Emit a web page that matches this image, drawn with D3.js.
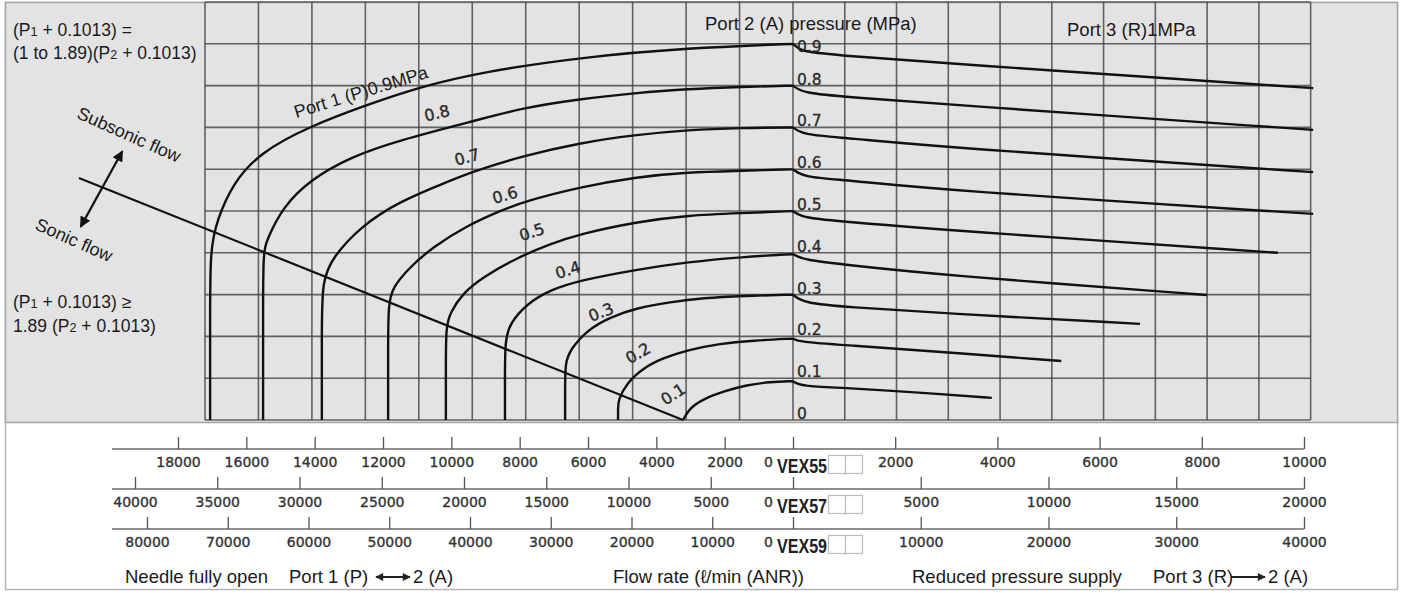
<!DOCTYPE html>
<html><head><meta charset="utf-8">
<script src="https://cdn.jsdelivr.net/npm/d3@7"></script>
<style>body{margin:0;background:#fff}svg{display:block}</style>
</head><body><svg id="c" width="1405" height="593"></svg>
<script>
// ---------------- DATA (flow in VEX55 l/min: negative = Port1->2, positive = Port3->2; pressure MPa) ----------
const portPressures = [0.9, 0.8, 0.7, 0.6, 0.5, 0.4, 0.3, 0.2, 0.1];
const curveP09 = [[-17060,0],[-17060,0.25],[-17060,0.407],[-16860,0.478],[-16390,0.567],[-15600,0.640],[-14140,0.703],[-12470,0.754],[-10920,0.797],[-9070,0.833],[-6180,0.868],[-3070,0.890],[0,0.900],[0,0.900],[140,0.885],[330,0.880],[1060,0.871],[2880,0.854],[10180,0.794]];
const curveP08 = [[-15510,0],[-15510,0.25],[-15510,0.400],[-15400,0.431],[-14930,0.510],[-14140,0.574],[-12970,0.629],[-11500,0.670],[-9450,0.713],[-7900,0.747],[-6240,0.768],[-4630,0.782],[-3070,0.792],[-1490,0.797],[0,0.800],[0,0.800],[200,0.782],[1060,0.773],[2880,0.756],[10180,0.694]];
const curveP07 = [[-13790,0],[-13790,0.2],[-13790,0.335],[-13460,0.390],[-12670,0.462],[-11500,0.524],[-10040,0.572],[-9450,0.592],[-7900,0.632],[-6240,0.663],[-4630,0.682],[-3070,0.694],[-1490,0.699],[0,0.700],[0,0.700],[200,0.682],[1060,0.675],[2880,0.653],[10180,0.593]];
const curveP06 = [[-11850,0],[-11850,0.15],[-11850,0.280],[-11710,0.318],[-11210,0.366],[-10540,0.414],[-9540,0.465],[-8580,0.500],[-7900,0.522],[-6240,0.557],[-4630,0.581],[-3070,0.593],[-1490,0.596],[0,0.600],[0,0.600],[200,0.581],[1060,0.574],[2880,0.550],[10180,0.493]];
const curveP05 = [[-10160,0],[-10160,0.12],[-10160,0.222],[-10040,0.256],[-9660,0.304],[-9070,0.342],[-8080,0.388],[-7110,0.421],[-6240,0.445],[-4570,0.474],[-3070,0.490],[-1490,0.495],[0,0.500],[0,0.500],[200,0.483],[1060,0.474],[2880,0.455],[9490,0.400]];
const curveP04 = [[-8430,0],[-8430,0.1],[-8430,0.191],[-8280,0.232],[-7790,0.278],[-7110,0.311],[-6240,0.334],[-4570,0.360],[-3070,0.378],[-1490,0.390],[0,0.397],[0,0.397],[200,0.383],[1060,0.371],[2880,0.347],[8100,0.299]];
const curveP03 = [[-6670,0],[-6670,0.07],[-6670,0.136],[-6530,0.167],[-6030,0.215],[-5360,0.246],[-4570,0.268],[-3600,0.282],[-2630,0.292],[-1460,0.297],[0,0.300],[0,0.300],[200,0.280],[1060,0.270],[2880,0.256],[6790,0.230]];
const curveP02 = [[-5120,0],[-5120,0.025],[-5120,0.048],[-4860,0.089],[-4390,0.124],[-3810,0.148],[-3100,0.167],[-2140,0.183],[-1170,0.190],[0,0.195],[0,0.195],[100,0.187],[1060,0.179],[2880,0.163],[5250,0.141]];
const curveP01 = [[-3220,0],[-3020,0.029],[-2630,0.050],[-2050,0.068],[-1350,0.084],[-670,0.091],[0,0.093],[0,0.093],[140,0.081],[1060,0.077],[2880,0.062],[3890,0.053]];
const sonicLine = [[-20900,0.579],[-3220,0]];
const pressureAxisLabels = ["0.9","0.8","0.7","0.6","0.5","0.4","0.3","0.2","0.1","0"];
const pressureAxisValues = [0.9,0.8,0.7,0.6,0.5,0.4,0.3,0.2,0.1,0];
// curve label anchor [flow, pressure, angle]
const curveLabelText = ["Port 1 (P)0.9MPa","0.8","0.7","0.6","0.5","0.4","0.3","0.2","0.1"];
const curveLabelPos = [[-12650,0.785,-17],[-10420,0.734,-13],[-9540,0.629,-15],[-8430,0.538,-16],[-7640,0.450,-18],[-6590,0.359,-18],[-5620,0.258,-22],[-4540,0.160,-30],[-3510,0.062,-33]];
// flow axes (tick values)
const vex55Left = [18000,16000,14000,12000,10000,8000,6000,4000,2000];
const vex55Right = [2000,4000,6000,8000,10000];
const vex57Left = [40000,35000,30000,25000,20000,15000,10000,5000];
const vex57Right = [5000,10000,15000,20000];
const vex59Left = [80000,70000,60000,50000,40000,30000,20000,10000];
const vex59Right = [10000,20000,30000,40000];
const seriesNames = ["VEX55","VEX57","VEX59"];

// ---------------- LAYOUT ----------------
const svg = d3.select('#c');
const W = 1405, H = 593;
const X0 = 793;
const x = d3.scaleLinear().domain([-18000,0,10000]).range([178,X0,1304]);
const y = d3.scaleLinear().domain([0,1]).range([420,2]);
const axisScales = [
  d3.scaleLinear().domain([-18000,0,10000]).range([178,X0,1304]),
  d3.scaleLinear().domain([-40000,0,20000]).range([135,X0,1304]),
  d3.scaleLinear().domain([-80000,0,40000]).range([147,X0,1304])
];
const axisTicks = [
  vex55Left.map(v=>-v).concat([0], vex55Right),
  vex57Left.map(v=>-v).concat([0], vex57Right),
  vex59Left.map(v=>-v).concat([0], vex59Right)
];
const axisY = [449, 489, 529];

svg.append('rect').attr('width',W).attr('height',H).attr('fill','#fff');
svg.append('rect').attr('x',5.5).attr('y',2.5).attr('width',1392).attr('height',587)
  .attr('fill','#fff').attr('stroke','#b5b5b5').attr('stroke-width',1.5);
svg.append('rect').attr('x',5.5).attr('y',2.5).attr('width',1392).attr('height',420)
  .attr('fill','#e3e3e3').attr('stroke','#a5a5a5').attr('stroke-width',1.5);

const defs = svg.append('defs');
defs.append('marker').attr('id','ah').attr('viewBox','0 0 10 10').attr('refX',9).attr('refY',5)
  .attr('markerWidth',15).attr('markerHeight',11).attr('markerUnits','userSpaceOnUse')
  .attr('orient','auto-start-reverse').append('path').attr('d','M0,0L10,5L0,10z').attr('fill','#111');
defs.append('marker').attr('id','ahs').attr('viewBox','0 0 10 10').attr('refX',9).attr('refY',5)
  .attr('markerWidth',10).attr('markerHeight',8).attr('markerUnits','userSpaceOnUse')
  .attr('orient','auto-start-reverse').append('path').attr('d','M0,0L10,5L0,10z').attr('fill','#222');

// grid
const gridLeftEdge = -17210, gridRightEdge = 10130;
const gx = d3.range(12).map(i => gridLeftEdge*(1 - i/11)).concat(d3.range(1,11).map(i => i*gridRightEdge/10));
const gy = d3.range(0,11).map(i => i/10);
const grid = svg.append('g').attr('stroke','#4a4a4a').attr('stroke-width',1.6).attr('stroke-opacity',0.85);
grid.selectAll('line.v').data(gx).join('line').attr('class','v')
  .attr('x1',d=>x(d)).attr('x2',d=>x(d)).attr('y1',y(0)).attr('y2',y(1));
grid.selectAll('line.h').data(gy).join('line').attr('class','h')
  .attr('x1',x(gridLeftEdge)).attr('x2',x(gridRightEdge)).attr('y1',d=>y(d)).attr('y2',d=>y(d));

// curves
const curves = [curveP09,curveP08,curveP07,curveP06,curveP05,curveP04,curveP03,curveP02,curveP01];
const line = d3.line().x(d=>x(d[0])).y(d=>y(d[1])).curve(d3.curveBasis);
svg.append('g').selectAll('path').data(curves).join('path')
  .attr('d',line).attr('fill','none').attr('stroke','#111').attr('stroke-width',2.4).attr('stroke-linejoin','round');
svg.append('path').attr('d',d3.line().x(d=>x(d[0])).y(d=>y(d[1]))(sonicLine))
  .attr('fill','none').attr('stroke','#111').attr('stroke-width',2.2);

// curve labels
svg.append('g').selectAll('text').data(curveLabelText).join('text')
  .attr('transform',(d,i)=>`translate(${x(curveLabelPos[i][0])},${y(curveLabelPos[i][1])}) rotate(${curveLabelPos[i][2]})`)
  .attr('text-anchor','middle').attr('dy','0.35em')
  .attr('font-family',(d,i)=> i===0 ? 'Liberation Sans, Arial, sans-serif' : 'DejaVu Sans, sans-serif')
  .attr('font-size',(d,i)=> i===0 ? 18 : 16).attr('fill',(d,i)=> i===0 ? '#1a1a1a':'#2a2a2a')
  .attr('stroke',(d,i)=> i===0 ? 'none':'#2a2a2a').attr('stroke-width',0.4)
  .text(d=>d);

// pressure labels at zero flow
svg.append('g').selectAll('text').data(pressureAxisValues).join('text')
  .attr('x',x(0)+4).attr('y',(d,i)=> y(d) - 1 + (i===0 ? 9 : 0))
  .attr('font-family','DejaVu Sans, sans-serif').attr('font-size',15.5).attr('fill','#2a2a2a')
  .attr('stroke','#2a2a2a').attr('stroke-width',0.3)
  .text((d,i)=>pressureAxisLabels[i]);

const txt = (t, xx, yy, size, opts={}) => {
  const el = svg.append('text').attr('x',xx).attr('y',yy).attr('font-family','Liberation Sans, Arial, sans-serif')
    .attr('font-size',size).attr('fill','#1a1a1a');
  if (opts.transform) el.attr('transform',opts.transform).attr('x',null).attr('y',null).attr('text-anchor','middle').attr('dy','0.35em');
  if (Array.isArray(t)) t.forEach(p => { const s = el.append('tspan').text(p.t); if (p.sub) s.attr('font-size',size*0.72); });
  else el.text(t);
  return el;
};
txt("Port 2 (A) pressure (MPa)", 705, 30, 18.5);
txt("Port 3 (R)1MPa", 1067, 36, 18.5);
txt([{t:"(P"},{t:"1",sub:1},{t:" + 0.1013) ="}], 13, 36, 17.5);
txt([{t:"(1 to 1.89)(P"},{t:"2",sub:1},{t:" + 0.1013)"}], 13, 59, 17.5);
txt([{t:"(P"},{t:"1",sub:1},{t:" + 0.1013) \u2265"}], 13, 308, 17.5);
txt([{t:"1.89 (P"},{t:"2",sub:1},{t:" + 0.1013)"}], 13, 332, 17.5);
txt("Subsonic flow", 0, 0, 18, {transform:`translate(${x(-19430)},${y(0.683)}) rotate(24)`});
txt("Sonic flow", 0, 0, 18, {transform:`translate(${x(-21040)},${y(0.431)}) rotate(24)`});
// double arrow subsonic/sonic
svg.append('line').attr('x1',x(-19630)).attr('y1',y(0.643)).attr('x2',x(-20850)).attr('y2',y(0.462))
  .attr('stroke','#111').attr('stroke-width',2.2).attr('marker-start','url(#ah)').attr('marker-end','url(#ah)');

// flow axes
axisScales.forEach((sc,i) => {
  const g = svg.append('g').attr('transform',`translate(0,${axisY[i]})`);
  g.append('line').attr('x1',112).attr('x2',1304).attr('stroke','#6a6a6a').attr('stroke-width',1.3);
  const ax = d3.axisBottom(sc).tickValues(axisTicks[i]).tickSizeInner(-12).tickSizeOuter(0).tickPadding(8)
    .tickFormat(d => d3.format('d')(Math.abs(d)));
  const ga = g.append('g').call(ax);
  ga.select('.domain').remove();
  ga.selectAll('.tick line').attr('stroke','#555').attr('stroke-width',1.3);
  ga.selectAll('.tick text').attr('font-family','DejaVu Sans, sans-serif').attr('font-size',14).attr('fill','#333')
    .attr('stroke','#333').attr('stroke-width',0.35);
  ga.selectAll('.tick').filter(d => d === 0).select('text').attr('x',-25);
  g.append('text').attr('x',777).attr('y',24).attr('font-family','Liberation Sans, Arial, sans-serif')
    .attr('font-size',20).attr('font-weight','bold').attr('fill','#222')
    .attr('textLength',50).attr('lengthAdjust','spacingAndGlyphs').text(seriesNames[i]);
  [0,1].forEach(k => g.append('rect').attr('x',828.5+k*17).attr('y',6.5).attr('width',17).attr('height',18)
    .attr('fill','#fff').attr('stroke','#bdbdbd').attr('stroke-width',1.2));
});

// bottom captions
txt("Needle fully open", 125, 583, 18.5);
txt("Port 1 (P)", 289, 583, 18.5);
svg.append('line').attr('x1',376).attr('x2',410).attr('y1',577).attr('y2',577).attr('stroke','#222').attr('stroke-width',2)
  .attr('marker-start','url(#ahs)').attr('marker-end','url(#ahs)');
txt("2 (A)", 413, 583, 18.5);
txt("Flow rate (\u2113/min (ANR))", 613, 583, 18.5);
txt("Reduced pressure supply", 912, 583, 18.5);
txt("Port 3 (R)", 1153, 583, 18.5);
svg.append('line').attr('x1',1231).attr('x2',1265).attr('y1',577).attr('y2',577).attr('stroke','#222').attr('stroke-width',2)
  .attr('marker-end','url(#ahs)');
txt("2 (A)", 1268, 583, 18.5);
</script></body></html>
